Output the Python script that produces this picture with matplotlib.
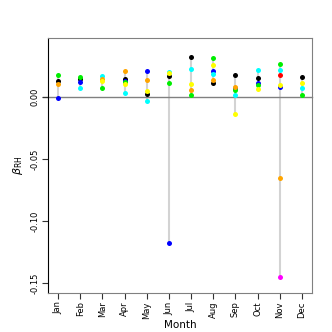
import numpy as np
import matplotlib
matplotlib.use("Agg")
import matplotlib.pyplot as plt

nan = np.nan
months = ["Jan", "Feb", "Mar", "Apr", "May", "Jun", "Jul", "Aug", "Sep", "Oct", "Nov", "Dec"]

black   = [0.0130, 0.0148, nan, 0.0148, 0.0024, 0.0170, 0.0322, 0.0115, 0.0177, 0.0156, nan, 0.0161]
blue    = [-0.0003, 0.0126, nan, 0.0131, 0.0215, -0.1177, nan, 0.0215, 0.0075, 0.0113, 0.0085, nan]
cyan    = [nan, 0.0077, 0.0174, 0.0037, -0.0030, 0.0205, 0.0228, 0.0188, 0.0016, 0.0218, 0.0223, 0.0073]
green   = [0.0180, 0.0164, 0.0073, 0.0120, nan, 0.0113, 0.0021, 0.0319, 0.0056, 0.0102, 0.0266, 0.0021]
orange  = [0.0105, nan, 0.0148, 0.0212, 0.0142, nan, 0.0056, 0.0139, 0.0085, nan, -0.0648, nan]
yellow  = [nan, nan, 0.0134, 0.0105, 0.0053, 0.0198, 0.0105, 0.0263, -0.0137, 0.0070, 0.0102, 0.0113]
red     = [nan, nan, nan, nan, nan, nan, nan, nan, nan, nan, 0.0180, nan]
magenta = [nan, nan, nan, nan, nan, nan, nan, nan, nan, nan, -0.1449, nan]

series = [
    (black, "black"), (blue, "blue"), (cyan, "cyan"), (green, "#00ee00"),
    (orange, "orange"), (yellow, "yellow"), (red, "red"), (magenta, "magenta"),
]

fig = plt.figure(figsize=(3.32, 3.32), dpi=100)
ax = fig.add_axes([48/332, 1-293/332, (312-48)/332, (293-38)/332])

x = np.arange(1, 13)
allv = np.array([s for s, _ in series], dtype=float)
lo = np.nanmin(allv, axis=0)
hi = np.nanmax(allv, axis=0)
ax.vlines(x, lo, hi, color="#d3d3d3", lw=1.5, zorder=1)

ax.plot([0.33, 12.45], [0, 0], color="#808080", lw=1.0, zorder=1, clip_on=False)

for vals, col in series:
    ax.plot(x, vals, "o", color=col, markersize=3.6, markeredgewidth=0, zorder=3, clip_on=False)

ax.set_xlim(0.55, 12.45)
ax.set_ylim(-0.1578, 0.0478)

ax.set_yticks([-0.15, -0.10, -0.05, 0.00])
ax.set_yticklabels(["-0.15", "-0.10", "-0.05", "0.00"], rotation=90, va="center", fontsize=6)
ax.set_xticks(x)
ax.set_xticklabels(months, rotation=90, fontsize=6)

for side in ["top", "right", "bottom"]:
    ax.spines[side].set_color("#808080")
ax.spines["left"].set_color("black")
ax.tick_params(axis="both", length=4, width=0.8, color="#333333", pad=2)

ax.set_xlabel("Month", fontsize=7.5, labelpad=1)
ax.set_ylabel(r"$\beta_{\mathrm{RH}}$", fontsize=8, labelpad=4)

fig.savefig("out.png", dpi=100)
